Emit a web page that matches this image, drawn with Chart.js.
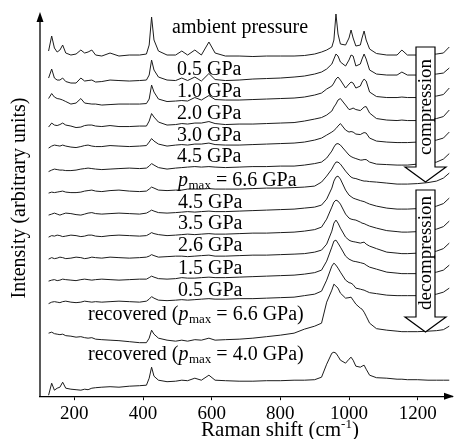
<!DOCTYPE html>
<html>
<head>
<meta charset="utf-8">
<script src="https://cdn.jsdelivr.net/npm/chart.js@4.4.1/dist/chart.umd.min.js"></script>
<style>
  html, body { margin: 0; padding: 0; background: #fff; }
  canvas { display: block; }
</style>
</head>
<body>
<canvas id="raman" width="456" height="439"></canvas>
<script>
// Raman shift grid (cm-1) shared by all traces
const shift = [125,134,142,150,158,166,175,190,205,219,230,240,251,262,280,304,330,360,390,410,
  418,425,432,445,470,495,513,530,551,570,592,610,640,680,720,760,800,840,870,900,
  920,935,950,956,962,968,975,990,1000,1006,1012,1020,1033,1038,1044,1050,
  1060,1080,1110,1140,1154,1170,1200,1230,1255,1275,1292];

// intensity above each trace's own baseline (arbitrary units)
const ambient = [5,20,8,4,6,11,3, 1,2,6,3,4,6,1, 0,3,0,1,1,2, 11,39,16,5,
  1,1,5,1,6,1,14,3, 0,0,-0.5,0,0,0,0.5,2, 4,6,9,16,42,22,12,
  11,18,26,18,10,11,18,25,16,7,2.5, 1,1,6,1,1,1.5,2,3,9];
const comp05 = [3,12,3,1,1,3,-0.5, -2,-2,3,0,0.5,1,-1, -0.5,1,0.5,0,0.5,1, 6,21,11,4,
  1,0.5,3,0.5,4,0,7.5,1.5, 0.5,1,2,2.5,3,4,5,7, 9,12,17,22,27,25,19,
  15,21,26,25,15,17,22,27,22,11,7, 6,6,9,6,6,6.5,7,8,13];
const comp10 = [4.5,9.5,6,4.5,4,3,1.5, -1,0,4.5,0,-0.5,-1,-1, -2,-1.5,-1,-1,-1,-0.5, 4,18,11,4,
  1.5,2,2.5,2,5.5,3,7.5,3.5, 3,3,3.5,4,4.5,5,6,8, 10,14,17,20,24,26,23,
  15,19,21,20,15,17,21,24,22,11,6.5, 5.5,5.5,6,5.5,5.5,6.5,7,8.5,15];
const comp20 = [-2,2,0,-0.5,0.5,2,0, -1,-2.5,-2,-0.5,0,0,-1, -1.5,-0.5,-1.5,-1.5,-1,-1, 4,11.5,8,3,
  0,0.5,1.5,1,2,2,3.5,1.5, 0.5,1,1,1.5,2,2.5,4,6, 7.5,10,14,18,21,25,26.5,
  20,15.5,16,17,15.5,14.5,16,18,18.5,12,6.5, 5,4.5,5,4.5,4.5,5.5,6.5,8.5,15];
const comp30 = [-2,0,1,0.5,0,1,0, -1,-1.5,-0.5,0.5,1,0,-0.5, -0.5,0.5,0,-0.5,0,0.5, 4,7.5,5,2,
  0,1,1.5,1,2,2,3,1.5, 1,1,1.5,2,2.5,3,4,6, 8,11,14,15.5,17.5,20,22.5,
  16,14,14.5,14,12,11.5,12.5,13.5,13,8,5, 4,3.5,3.5,3.5,4,4.5,6,8,14];
const comp45 = [-3.5,-2,-1,-1.5,-2,-2,-2.5, -2.5,-2,-1,-0.5,0,-0.5,-1, -1.5,-1,-0.5,0,-0.5,0, 2,4.5,3,0.5,
  -1,0,0.5,1,1.5,1,1.5,1, 0.5,1,1.5,1.5,2,2,3,4.5, 6,10,17,21,24,24.5,23,
  17,13,11.5,10.5,9.5,8,8,8.5,8.5,6,4, 3.5,3,3,3,4,5,6,9,14.5];
const pmax66 = [-2,-1,-1.5,-1,-0.5,0,-1, -1.5,-1.5,-1,0,0.5,1,0, -0.5,0.5,1,0,-0.5,0, 2,4,3,1,
  0.5,1,1,2,2,2,2.5,2, 2,2,2.5,3,3,3.5,4,5, 9,15,22,26,29,29,27,
  20,16,14,13,12.5,11,10.5,10,10,9.5,9, 8,7,7,7,7.5,8.5,10,13,18];
const dec45 = [-1,0,1,0,-1,0,1, 0.5,-0.5,-1,0,1,1.5,0.5, 0,0.5,1,0.5,0,1, 2.5,4,3,1.5,
  1,1.5,2,2.5,2,2.5,3,2.5, 2.5,3,3.5,4,4.5,5,6,7, 9,15,26,33,37,38,35,
  24,19,17.5,16,15,13.5,13,12.5,11.5,10,8, 6,5,5,5,5.5,6,8,10.5,16];
const dec35 = [-1,0.5,0,1,0.5,-0.5,0, 1,0.5,-0.5,0,1,1,0, -0.5,0.5,1,0.5,0,0.5, 2,3.5,2.5,1.5,
  0.5,1,1.5,2,1.5,2,2.5,2, 2,2.5,3,3,3.5,4,5,6.5, 9,17,29,34,36,35,32,
  22,18,17,16.5,16,14,13,12.5,11.5,10,8, 5.5,4.5,4,4,4.5,5.5,7,9.5,15];
const dec26 = [-1,0.5,-0.5,0,1,0.5,-0.5, 0,1,0.5,-0.5,0,1,0.5, 0,1,0.5,0,0.5,1, 2,3.5,2.5,1,
  1.5,2,2,1.5,2,2.5,3,2, 2,2.5,3,3,3.5,4,4.5,6, 8,14,27,35,38,35,30,
  21,18,17,16.5,16,15,15.5,16,14,12,9.5, 6,5,4.5,4.5,5,5.5,7,9.5,15];
const dec15 = [-1,0,0.5,-0.5,0,1,0.5, 0,-0.5,0.5,1,0.5,0,0.5, 1,0.5,0,0.5,1,1, 2.5,4,3,1.5,
  1,1.5,2.5,2,2,2.5,3,2.5, 2.5,3,3.5,4,4.5,5,6,7.5, 10,19,33,39,40,37,33,
  24,21,20,19,18.5,17.5,17,16.5,15,13,11, 8,7,6.5,6.5,6.5,7,8,10,15];
const dec05 = [-1.5,0,0.5,0,-0.5,0.5,1, 0,-0.5,0,1,0.5,0,0.5, 0,0.5,1,0.5,0,1, 3,5.5,4,2,
  1.5,2,2.5,2,2.5,3,3.5,3, 3,3.5,3.5,4,4.5,5,6.5,8, 11,22,36,39,37,34,30,
  22,19.5,19,17.5,14,13,12.5,12,11,9.5,8.5, 7,6.5,6.5,6.5,6.5,7,8,10,14];
const rec66 = [5,6,4.5,4,3.5,4,2.5, 2,1,1.5,0.5,0,0.5,-1, -1.5,-2,-2.5,-3.5,-4.5,-4.5, 0,8,4,0,
  -2,-3,-2,-3,-1.5,-2,0,-2, -1.5,-1,0,1.5,3,5,9,12, 15,36,48,54,52,50,45,
  40,40.5,41,38,34,30,29,26,22,15,9.5, 8,7,6.5,6.5,6.5,7,7.5,8.5,12];
const rec40 = [-7,5,-2,0,1,6,0, -1,-1.5,-2,-1,-1.5,0,0.5, 1,1.5,1,2,2.5,3, 10,21,12,8,
  6.5,7,8,7.5,10,8,13,8, 7.5,7,7,7.5,7.5,8,8,8.5, 11,24,35,36,35,32,28,
  25,29,31,28,22,21,22,23,19,13,10.5, 10,9,9,8.5,8.5,8,8,8,8];

// stacking offset of each trace, top to bottom
const offsets = [344, 319, 297, 275, 254, 232, 209, 186, 164, 142, 120, 98, 62, 12];
const traceLabels = ['ambient pressure', '0.5 GPa', '1.0 GPa', '2.0 GPa', '3.0 GPa', '4.5 GPa',
  'p_max = 6.6 GPa', '4.5 GPa', '3.5 GPa', '2.6 GPa', '1.5 GPa', '0.5 GPa',
  'recovered (p_max = 6.6 GPa)', 'recovered (p_max = 4.0 GPa)'];
const xTicks = [200, 400, 600, 800, 1000, 1200];

const spectra = [ambient, comp05, comp10, comp20, comp30, comp45, pmax66,
  dec45, dec35, dec26, dec15, dec05, rec66, rec40];

// where each label sits (left edge, vertical middle) in canvas pixels
const labelAt = [[172, 28], [177, 70], [177, 92], [177, 114], [177, 136], [177, 157],
  [178, 181], [178, 203], [178, 224], [178, 246], [178, 269], [178, 291], [88, 315], [88, 355]];

const SERIF = '"Liberation Serif", "Times New Roman", serif';

function richLabel(ctx, text, x, y) {
  const parts = text.split('p_max');
  let cx = x;
  parts.forEach((part, i) => {
    if (i > 0) {
      ctx.font = 'italic 20px ' + SERIF;
      ctx.fillText('p', cx, y);
      cx += ctx.measureText('p').width + 0.5;
      ctx.font = '13px ' + SERIF;
      ctx.fillText('max', cx, y + 5);
      cx += ctx.measureText('max').width;
    }
    ctx.font = '20px ' + SERIF;
    ctx.fillText(part, cx, y);
    cx += ctx.measureText(part).width;
  });
}

function vText(ctx, text, x, y, size) {
  ctx.save();
  ctx.translate(x, y);
  ctx.rotate(-Math.PI / 2);
  ctx.font = size + 'px ' + SERIF;
  ctx.textAlign = 'center';
  ctx.textBaseline = 'middle';
  ctx.fillText(text, 0, 0);
  ctx.restore();
}

function blockArrow(ctx, l, t, r, b, hl, hr, tip) {
  ctx.beginPath();
  ctx.moveTo(l, t);
  ctx.lineTo(r, t);
  ctx.lineTo(r, b);
  ctx.lineTo(hr, b);
  ctx.lineTo((l + r) / 2, tip);
  ctx.lineTo(hl, b);
  ctx.lineTo(l, b);
  ctx.closePath();
  ctx.fillStyle = '#fff';
  ctx.fill();
  ctx.lineWidth = 1.2;
  ctx.strokeStyle = '#000';
  ctx.stroke();
}

const decor = {
  id: 'decor',
  afterDatasetsDraw(chart) {
    const { ctx, chartArea: a } = chart;
    ctx.save();
    ctx.strokeStyle = '#000';
    ctx.fillStyle = '#000';
    ctx.lineWidth = 1.3;
    // y axis with arrow head
    ctx.beginPath();
    ctx.moveTo(a.left, a.bottom);
    ctx.lineTo(a.left, 20);
    ctx.stroke();
    ctx.beginPath();
    ctx.moveTo(a.left, 12);
    ctx.lineTo(a.left - 3.5, 22);
    ctx.lineTo(a.left + 3.5, 22);
    ctx.closePath();
    ctx.fill();
    // x arrow head
    ctx.beginPath();
    ctx.moveTo(a.right + 2, a.bottom);
    ctx.lineTo(a.right - 8, a.bottom - 3.5);
    ctx.lineTo(a.right - 8, a.bottom + 3.5);
    ctx.closePath();
    ctx.fill();

    blockArrow(ctx, 416, 47, 435, 167, 405, 446, 182);
    blockArrow(ctx, 416, 190, 435, 317, 405, 446, 332);
    ctx.fillStyle = '#000';
    vText(ctx, 'compression', 426, 107, 19);
    vText(ctx, 'decompression', 426, 253, 19);
    vText(ctx, 'Intensity (arbitrary units)', 20, 198, 20);

    ctx.textAlign = 'left';
    ctx.textBaseline = 'middle';
    traceLabels.forEach((t, i) => richLabel(ctx, t, labelAt[i][0], labelAt[i][1]));

    // x axis title with superscript
    ctx.font = '21px ' + SERIF;
    const main = 'Raman shift (cm';
    const wMain = ctx.measureText(main).width;
    ctx.font = '13px ' + SERIF;
    const wSup = ctx.measureText('-1').width;
    ctx.font = '21px ' + SERIF;
    const wEnd = ctx.measureText(')').width;
    let tx = 280 - (wMain + wSup + wEnd) / 2;
    ctx.fillText(main, tx, 430);
    tx += wMain;
    ctx.font = '13px ' + SERIF;
    ctx.fillText('-1', tx, 425);
    tx += wSup;
    ctx.font = '21px ' + SERIF;
    ctx.fillText(')', tx, 430);
    ctx.restore();
  }
};

new Chart(document.getElementById('raman').getContext('2d'), {
  type: 'line',
  data: {
    datasets: spectra.map((s, i) => ({
      label: traceLabels[i],
      data: shift.map((x, j) => ({ x: x, y: offsets[i] + s[j] })),
      borderColor: '#1c1c1c',
      borderWidth: 1,
      pointRadius: 0,
      tension: 0,
      fill: false
    }))
  },
  options: {
    responsive: false,
    animation: false,
    layout: { padding: { left: 40, right: 4, top: 12, bottom: 12 } },
    plugins: {
      legend: { display: false },
      tooltip: { enabled: false }
    },
    scales: {
      x: {
        type: 'linear',
        min: 100,
        max: 1300,
        afterBuildTicks: (scale) => { scale.ticks = xTicks.map(v => ({ value: v })); },
        grid: { display: true, drawOnChartArea: false, drawTicks: true, tickLength: 4, color: '#000' },
        border: { display: true, color: '#000', width: 1.3 },
        ticks: {
          color: '#000',
          padding: 2,
          maxRotation: 0,
          autoSkip: false,
          callback: (v) => String(v),
          font: { family: 'Liberation Serif', size: 19 }
        }
      },
      y: { display: false, min: 4, max: 388 }
    }
  },
  plugins: [decor]
});
</script>
</body>
</html>
